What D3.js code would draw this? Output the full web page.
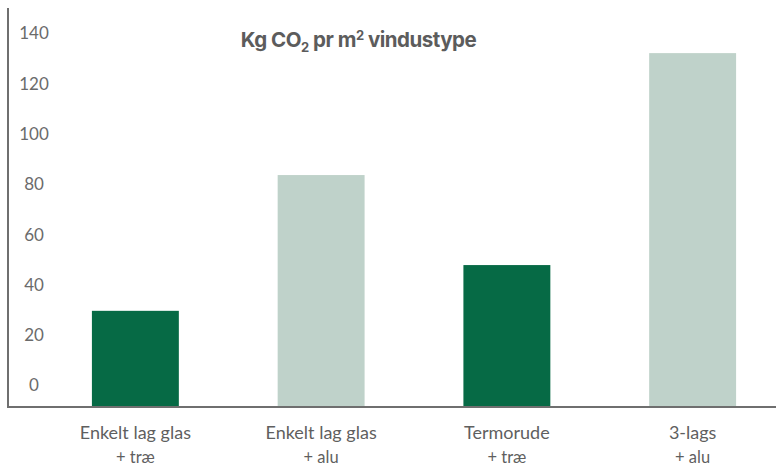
<!DOCTYPE html>
<html>
<head>
<meta charset="utf-8">
<script src="https://cdn.jsdelivr.net/npm/d3@7"></script>
<style>
  html, body { margin: 0; padding: 0; background: #fff; }
  svg { display: block; }
</style>
</head>
<body>
<svg id="chart" width="777" height="470"></svg>
<script>
const categories = [["Enkelt lag glas", "+ træ"], ["Enkelt lag glas", "+ alu"], ["Termorude", "+ træ"], ["3-lags", "+ alu"]];
const values = [29.5, 83.5, 47.7, 132];
const barColors = ["#066a45", "#bfd2ca", "#066a45", "#bfd2ca"];
const tickValues = [0, 20, 40, 60, 80, 100, 120, 140];
const yFloor = -8.75;

const svg = d3.select("#chart");

const x = d3.scaleBand()
  .domain(d3.range(categories.length))
  .range([42.5, 785.5])
  .paddingInner(0.532)
  .paddingOuter(0.266);

const y = d3.scaleLinear().domain([yFloor, 140]).range([407, 33]);

// bars
svg.append("g").selectAll("rect")
  .data(values)
  .join("rect")
  .attr("x", (d, i) => x(i))
  .attr("width", x.bandwidth())
  .attr("y", d => y(d))
  .attr("height", d => y(yFloor) - y(d))
  .attr("fill", (d, i) => barColors[i]);

// y tick labels
const yAxis = d3.axisLeft(y).tickValues(tickValues).tickSize(0).tickFormat(d3.format("d"));
const gy = svg.append("g").attr("transform", "translate(34,0)").call(yAxis);
gy.select(".domain").remove();
gy.selectAll("text")
  .attr("x", 0)
  .attr("dy", "0.35em")
  .attr("text-anchor", "middle")
  .attr("font-family", "Lato, 'Open Sans', sans-serif")
  .attr("font-size", 17)
  .attr("fill", "#6b6b6b");

// axis lines
svg.append("line")
  .attr("x1", 8).attr("x2", 8)
  .attr("y1", 8).attr("y2", y(yFloor))
  .attr("stroke", "#6f6f6f").attr("stroke-width", 2);
svg.append("line")
  .attr("x1", 7).attr("x2", 776)
  .attr("y1", y(yFloor)).attr("y2", y(yFloor))
  .attr("stroke", "#6f6f6f").attr("stroke-width", 2);

// category labels
const cl = svg.append("g").selectAll("text")
  .data(categories)
  .join("text")
  .attr("x", (d, i) => x(i) + x.bandwidth() / 2)
  .attr("y", 439)
  .attr("text-anchor", "middle")
  .attr("font-family", "Lato, 'Open Sans', sans-serif")
  .attr("font-size", 18)
  .attr("fill", "#5f5f5f");
cl.append("tspan").text(d => d[0]);
cl.append("tspan").attr("x", (d, i) => x(i) + x.bandwidth() / 2).attr("dy", 24).attr("font-size", 16.5).text(d => d[1]);

// title
const t = svg.append("text")
  .attr("x", 358.5)
  .attr("y", 47)
  .attr("text-anchor", "middle")
  .attr("font-family", "Inter, 'Open Sans', sans-serif")
  .attr("font-weight", 700)
  .attr("font-size", 20.5)
  .attr("letter-spacing", -0.5)
  .attr("fill", "#5c5c5c");
t.append("tspan").text("Kg CO");
t.append("tspan").attr("font-size", 13).attr("dy", 5).text("2");
t.append("tspan").attr("dy", -5).text(" pr m");
t.append("tspan").attr("font-size", 13).attr("dy", -7).text("2");
t.append("tspan").attr("dy", 7).text(" vindustype");
</script>
</body>
</html>
